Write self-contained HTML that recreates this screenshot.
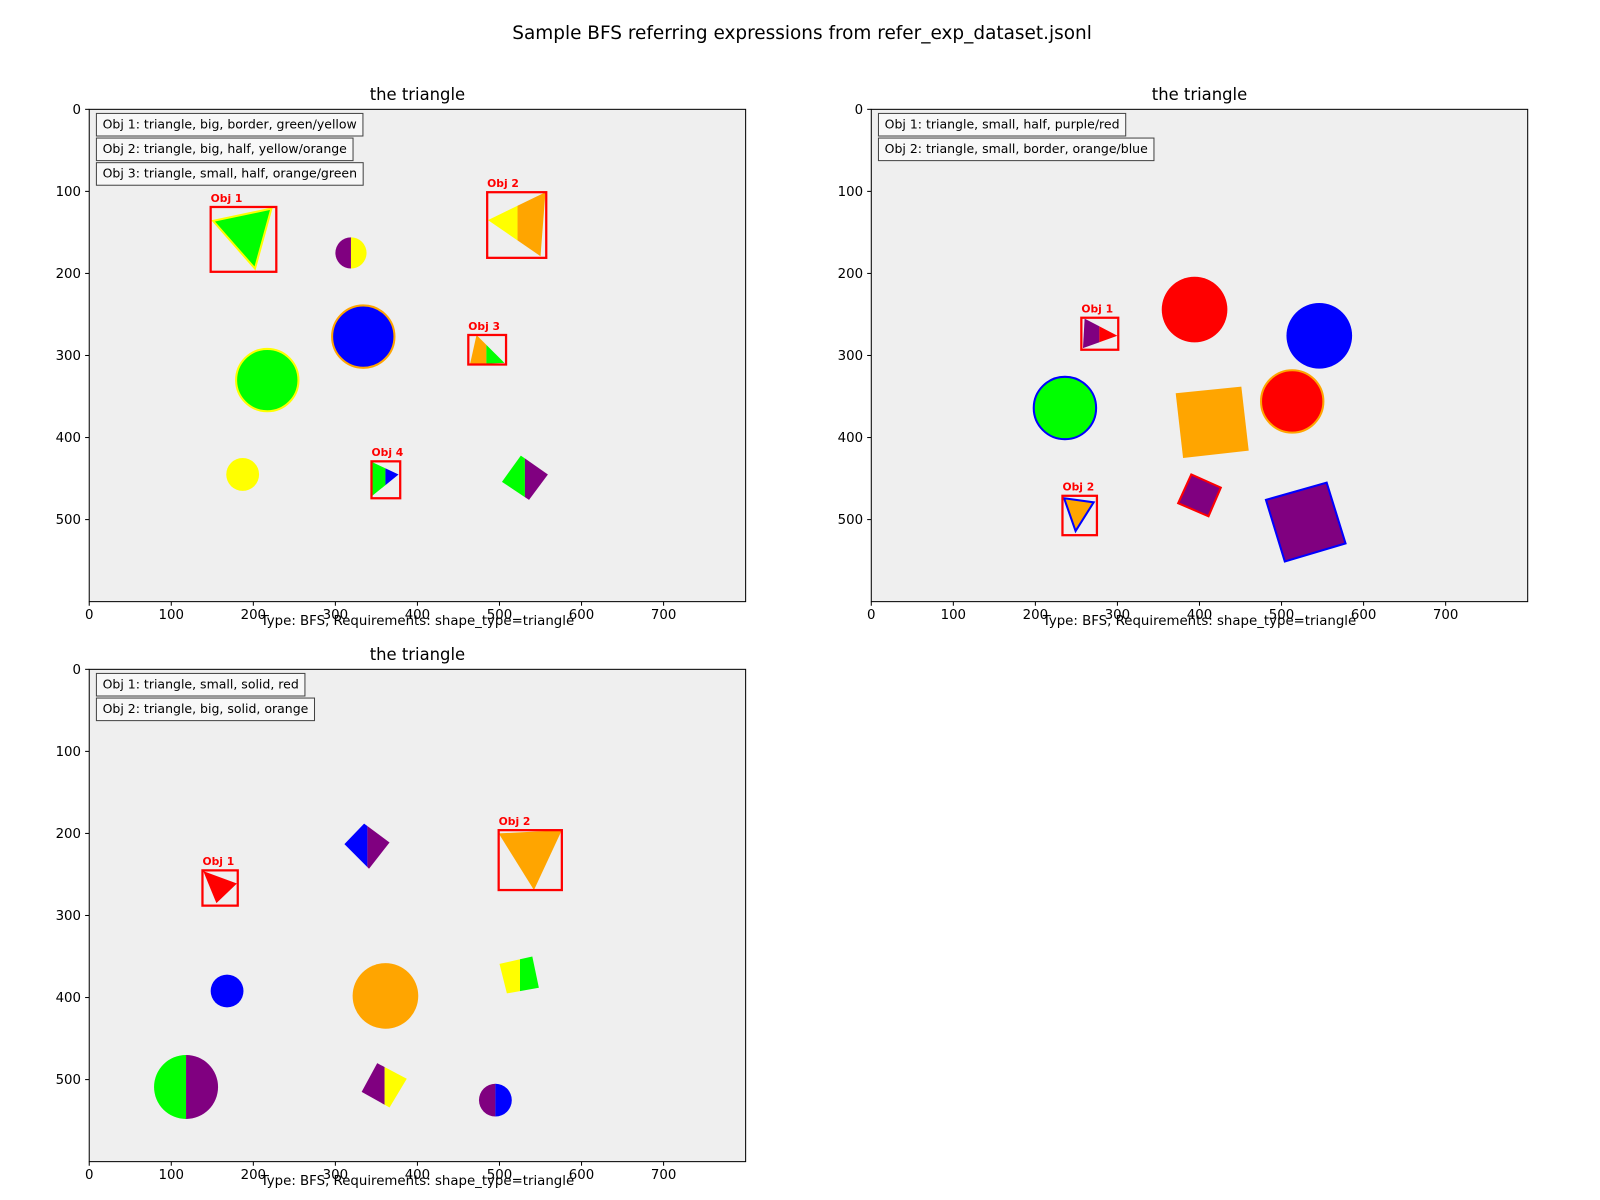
<!DOCTYPE html>
<html><head><meta charset="utf-8"><style>
html,body{margin:0;padding:0;background:#fff;}
svg{display:block;font-family:"DejaVu Sans","Liberation Sans",sans-serif;}
</style></head><body>
<svg id="fig" width="1600" height="1200" viewBox="0 0 1560 1170" xmlns="http://www.w3.org/2000/svg">
<text x="782" y="38" font-size="18" text-anchor="middle">Sample BFS referring expressions from refer_exp_dataset.jsonl</text>
</svg>
<script>
// panel origins (display units) and scale
const panelOrigins = [[87,106.6],[849.5,106.6],[87,652.6]];
const panelTitles = ["the triangle","the triangle","the triangle"];
const xTicks = [0,100,200,300,400,500,600,700];
const yTicks = [0,100,200,300,400,500];
const caption = "Type: BFS, Requirements: shape_type=triangle";
const legends1 = ["Obj 1: triangle, big, border, green/yellow","Obj 2: triangle, big, half, yellow/orange","Obj 3: triangle, small, half, orange/green"];
const legends2 = ["Obj 1: triangle, small, half, purple/red","Obj 2: triangle, small, border, orange/blue"];
const legends3 = ["Obj 1: triangle, small, solid, red","Obj 2: triangle, big, solid, orange"];
// shapes: [kind, geometry, fill, fill2 (right half), splitX, stroke]
const shapes1 = [
 ["poly",[[151,136],[222,121],[202,194]],"#00ff00",null,null,"#ffff00"],
 ["circle",[319,175,19],"#800080","#ffff00",319,null],
 ["poly",[[486,135],[556,101],[550,179]],"#ffff00","#ffa500",522,null],
 ["circle",[334,277,38],"#0000ff",null,null,"#ffa500"],
 ["circle",[217,330,38],"#00ff00",null,null,"#ffff00"],
 ["poly",[[472,275],[506,309],[464,311]],"#ffa500","#00ff00",484,null],
 ["circle",[187,445,20],"#ffff00",null,null,null],
 ["poly",[[345,430],[377,445],[345,471]],"#00ff00","#0000ff",361,null],
 ["poly",[[526,422],[559,445],[536,476],[503,454]],"#00ff00","#800080",531,null]
];
const shapes2 = [
 ["poly",[[260,255],[300,276],[258,291]],"#800080","#ff0000",278,null],
 ["circle",[394,244,40],"#ff0000",null,null,null],
 ["circle",[546,276,40],"#0000ff",null,null,null],
 ["circle",[236,364,38],"#00ff00",null,null,"#0000ff"],
 ["poly",[[371,346],[451,338],[460,416],[380,425]],"#ffa500",null,null,null],
 ["circle",[513,356,38],"#ff0000",null,null,"#ffa500"],
 ["poly",[[235,474],[271,479],[249,514]],"#ffa500",null,null,"#0000ff"],
 ["poly",[[390,445],[426,461],[411,496],[374,480]],"#800080",null,null,"#ff0000"],
 ["poly",[[481,476],[555,455],[578,529],[504,551]],"#800080",null,null,"#0000ff"]
];
const shapes3 = [
 ["poly",[[139,246],[180,261],[155,285]],"#ff0000",null,null,null],
 ["poly",[[311,213],[335,188],[366,211],[341,243]],"#0000ff","#800080",339,null],
 ["poly",[[499,200],[576,196],[542,269]],"#ffa500",null,null,null],
 ["circle",[168,392,20],"#0000ff",null,null,null],
 ["circle",[361,398,40],"#ffa500",null,null,null],
 ["poly",[[500,359],[540,350],[548,388],[509,395]],"#ffff00","#00ff00",525,null],
 ["circle",[118,509,39],"#00ff00","#800080",118,null],
 ["poly",[[351,480],[387,499],[366,534],[332,515]],"#800080","#ffff00",360,null],
 ["circle",[495,525,20],"#800080","#0000ff",495,null]
];
const boxes1 = [[148,119,228,198],[485,101,557,181],[462,275,508,311],[344,429,379,474]];
const boxes2 = [[256,254,301,293],[233,471,275,519]];
const boxes3 = [[138,245,181,288],[499,196,576,269]];

const NS="http://www.w3.org/2000/svg";
const svg=document.getElementById('fig');
const S=0.8;
let clipId=0;
function mk(tag,attrs,parent){const e=document.createElementNS(NS,tag);for(const k in attrs)e.setAttribute(k,attrs[k]);(parent||svg).appendChild(e);return e;}

function drawPanel(pi,shapes,boxes,legends){
 const [ox,oy]=panelOrigins[pi];
 const sx=v=>ox+v*S, sy=v=>oy+v*S;
 const g=mk('g',{});
 
 
 const bg=mk('rect',{x:ox,y:oy,width:800*S,height:600*S,fill:'#efefef'},g);
 
 
 shapes.forEach((s,i)=>{
  const [kind,geo,f1,f2,split,stroke]=s;
  const sg=mk('g',{},g);
  
  
  const make=(fill,clip,withStroke)=>{
   let el;
   if(kind==='circle') el=mk('circle',{cx:sx(geo[0]),cy:sy(geo[1]),r:geo[2]*S,fill:fill},sg);
   else el=mk('polygon',{points:geo.map(p=>sx(p[0])+','+sy(p[1])).join(' '),fill:fill},sg);
   if(clip) el.setAttribute('clip-path','url(#'+clip+')');
   if(withStroke&&stroke){el.setAttribute('stroke',stroke);el.setAttribute('stroke-width',2);}
   return el;
  };
  if(f2){
   const idL='c'+(clipId++), idR='c'+(clipId++);
   const d=mk('defs',{},sg);
   const cl=mk('clipPath',{id:idL},d); mk('rect',{x:ox,y:oy,width:sx(split)-ox,height:600*S},cl);
   const cr=mk('clipPath',{id:idR},d); mk('rect',{x:sx(split),y:oy,width:ox+800*S-sx(split),height:600*S},cr);
   make(f1,idL,false); make(f2,idR,false);
  } else make(f1,null,true);
 });
 boxes.forEach((b,i)=>{
  const r=mk('rect',{x:sx(b[0]),y:sy(b[1]),width:(b[2]-b[0])*S,height:(b[3]-b[1])*S,fill:'none',stroke:'#ff0000','stroke-width':2.2},g);
  
  
  const t=mk('text',{x:sx(b[0]),y:sy(b[1])-5,'font-size':10.5,'font-weight':'bold',fill:'#ff0000'},g);
  t.textContent='Obj '+(i+1);
  
  
 });
 legends.forEach((txt,i)=>{
  const y=oy+4+i*24;
  const lg=mk('g',{},g);
  
  
  const t=mk('text',{x:ox+13,y:y+14.5,'font-size':12.2,fill:'#000'},lg);
  t.textContent=txt;
  const w=t.getComputedTextLength();
  const r=mk('rect',{x:ox+7,y:y,width:w+12,height:22,fill:'#f8f8f8',stroke:'#444','stroke-width':1},lg);
  lg.insertBefore(r,t);
 });
 const fr=mk('rect',{x:ox,y:oy,width:800*S,height:600*S,fill:'none',stroke:'#000','stroke-width':1},g);
 
 
 xTicks.forEach(v=>{
  mk('line',{x1:sx(v),x2:sx(v),y1:oy+480,y2:oy+484,stroke:'#000'},g);
  const t=mk('text',{x:sx(v),y:oy+480+17,'font-size':13,'text-anchor':'middle'},g);
  t.textContent=v;
  
  
 });
 yTicks.forEach(v=>{
  mk('line',{x1:ox-4,x2:ox,y1:sy(v),y2:sy(v),stroke:'#000'},g);
  const t=mk('text',{x:ox-8,y:sy(v)+4.5,'font-size':13,'text-anchor':'end'},g);
  t.textContent=v;
  
  
 });
 const tt=mk('text',{x:ox+320,y:oy-9,'font-size':16,'text-anchor':'middle'},g);
 tt.textContent=panelTitles[pi];
 
 
 const cp=mk('text',{x:ox+320,y:oy+503,'font-size':13,'text-anchor':'middle'},g);
 cp.textContent=caption;
 
 
}
drawPanel(0,shapes1,boxes1,legends1);
drawPanel(1,shapes2,boxes2,legends2);
drawPanel(2,shapes3,boxes3,legends3);
</script>
</body></html>
